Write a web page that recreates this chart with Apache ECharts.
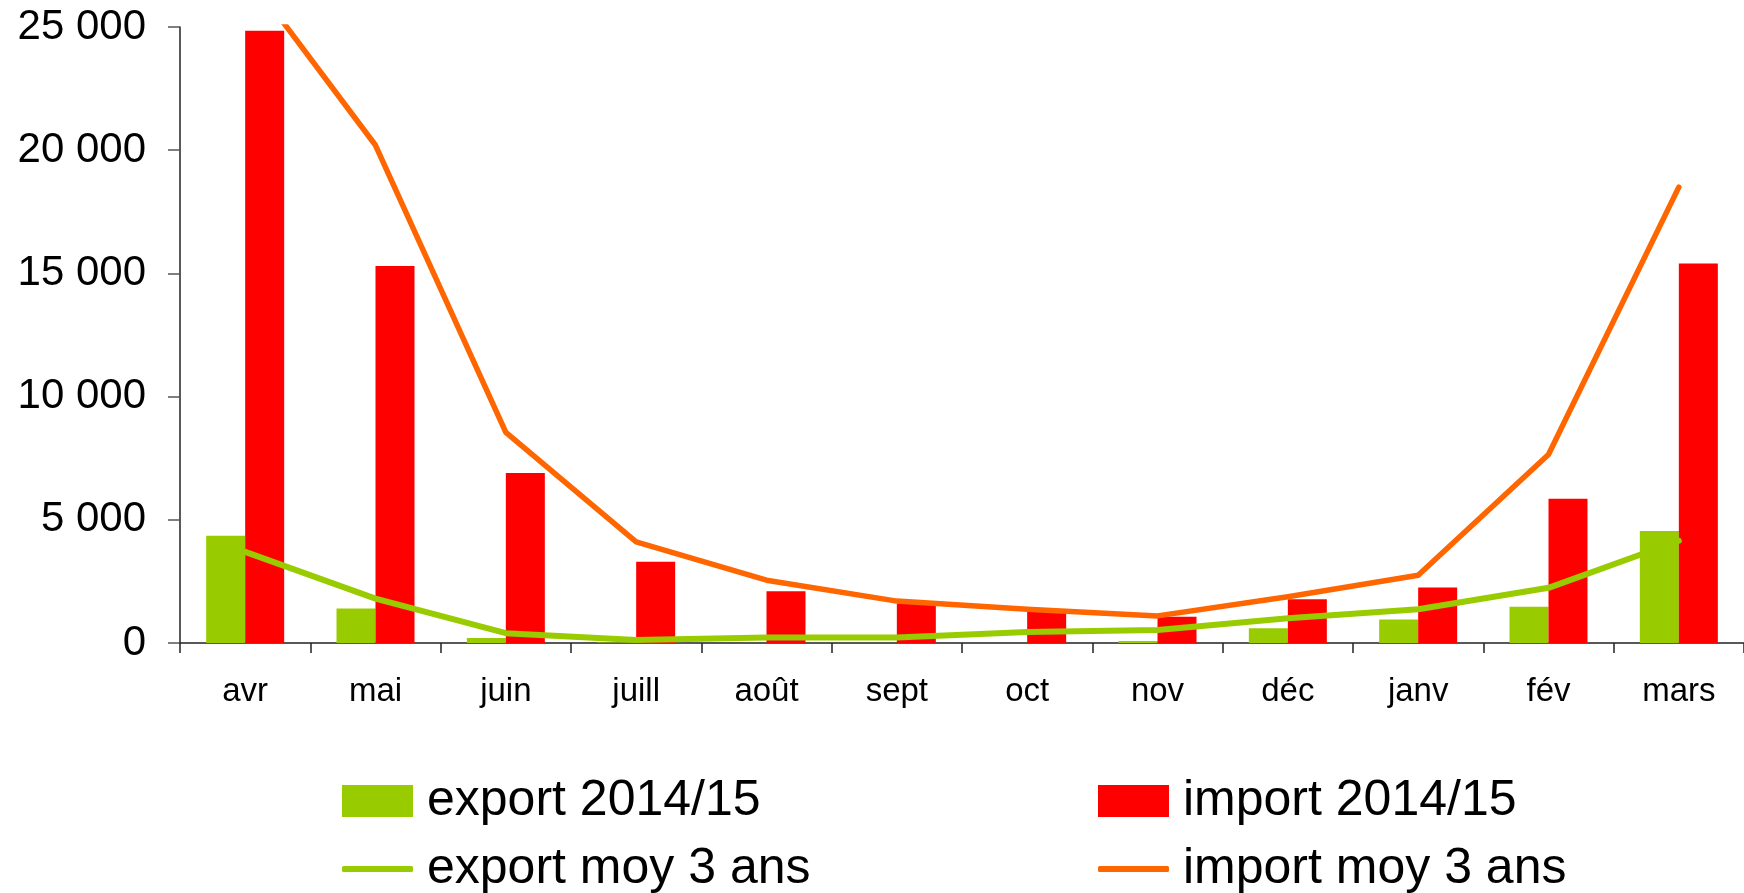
<!DOCTYPE html>
<html>
<head>
<meta charset="utf-8">
<script src="https://cdn.jsdelivr.net/npm/echarts@6/dist/echarts.min.js"></script>
<style>
html,body{margin:0;padding:0;background:#fff;}
#chart{width:1744px;height:893px;}
</style>
</head>
<body>
<div id="chart"></div>
<script>
const categories = ['avr','mai','juin','juill','août','sept','oct','nov','déc','janv','fév','mars'];
const exportBars = [4350, 1400, 200, 20, 0, 0, 0, 80, 600, 950, 1475, 4550];
const importBars = [24850, 15300, 6900, 3300, 2100, 1600, 1270, 1070, 1780, 2250, 5850, 15400];
const exportAvg = [3700, 1800, 400, 120, 220, 220, 450, 530, 1000, 1370, 2240, 4150];
const importAvg = [27250, 20200, 8550, 4100, 2550, 1700, 1370, 1100, 1880, 2750, 7650, 18500];
const yTicks = [0, 5000, 10000, 15000, 20000, 25000];

const FONT = '"Liberation Sans", Arial, sans-serif';
const chart = echarts.init(document.getElementById('chart'), null, {renderer: 'canvas'});

function fmt(v) {
  const s = String(Math.round(v));
  return s.replace(/\B(?=(\d{3})+(?!\d))/g, ' ');
}

const legendText = {fontFamily: FONT, fontSize: 50, color: '#000', lineHeight: 40, padding: [0, 0, 0, 9]};

function leg(name, left, top, h, icon) {
  return {
    left: left, top: top, orient: 'horizontal', itemWidth: 71, itemHeight: h,
    icon: icon, data: [{name: name, icon: icon}], textStyle: legendText,
    selectedMode: false
  };
}

chart.setOption({
  animation: false,
  backgroundColor: '#fff',
  grid: {left: 180, right: 0, top: 27, bottom: 250, containLabel: false},
  legend: [
    leg('export 2014/15', 337, 771, 32, 'rect'),
    leg('export moy 3 ans', 337, 839, 6, 'roundRect'),
    leg('import 2014/15', 1093, 771, 32, 'rect'),
    leg('import moy 3 ans', 1093, 839, 6, 'roundRect')
  ],
  xAxis: {
    type: 'category',
    data: categories,
    boundaryGap: true,
    axisLine: {show: true, lineStyle: {color: '#222', width: 1.5}},
    axisTick: {show: true, length: 10, lineStyle: {color: '#222', width: 1.5}},
    axisLabel: {fontFamily: FONT, fontSize: 33, color: '#000', margin: 32, interval: 0},
    splitLine: {show: false}
  },
  yAxis: {
    type: 'value',
    min: 0, max: 25000, interval: 5000,
    axisLine: {show: true, lineStyle: {color: '#222', width: 1.5}},
    axisTick: {show: true, length: 12, lineStyle: {color: '#555', width: 1.5}},
    axisLabel: {fontFamily: FONT, fontSize: 42, color: '#000', margin: 34,
      formatter: function (v) { return yTicks.indexOf(v) >= 0 ? fmt(v) : ''; }},
    splitLine: {show: false}
  },
  series: [
    {
      name: 'export 2014/15', type: 'bar', data: exportBars,
      barWidth: 39, barGap: '0%',
      itemStyle: {color: '#99CC00'}, z: 2
    },
    {
      name: 'import 2014/15', type: 'bar', data: importBars,
      barWidth: 39, barGap: '0%',
      itemStyle: {color: '#FF0000'}, z: 2
    },
    {
      name: 'export moy 3 ans', type: 'line', data: exportAvg,
      symbol: 'none', showSymbol: false, clip: true,
      lineStyle: {color: '#99CC00', width: 6, cap: 'round', join: 'round'},
      itemStyle: {color: '#99CC00'}, z: 3
    },
    {
      name: 'import moy 3 ans', type: 'line', data: importAvg,
      symbol: 'none', showSymbol: false, clip: true,
      lineStyle: {color: '#FF6600', width: 5.5, cap: 'round', join: 'round'},
      itemStyle: {color: '#FF6600'}, z: 3
    }
  ]
});
</script>
</body>
</html>
